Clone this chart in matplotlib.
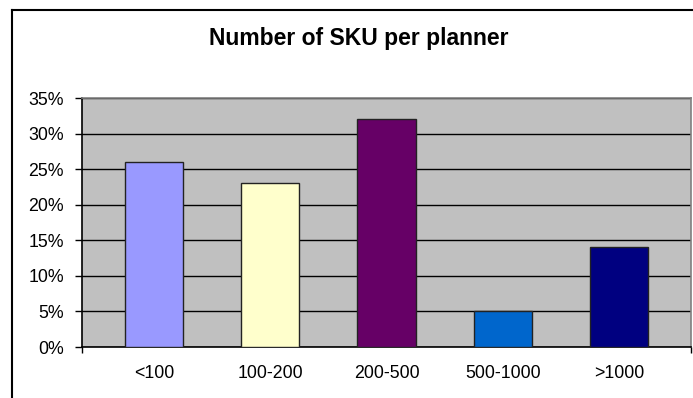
import numpy as np
import matplotlib.pyplot as plt
from matplotlib.lines import Line2D
from matplotlib.ticker import PercentFormatter

categories = ['<100', '100-200', '200-500', '500-1000', '>1000']
shares = [26, 23, 32, 5, 14]
bar_colors = ['#9999FF', '#FFFFCC', '#660066', '#0066CC', '#000080']
y_ticks = [0, 5, 10, 15, 20, 25, 30, 35]

plt.rcParams['font.family'] = ['Liberation Sans', 'DejaVu Sans']

fig = plt.figure(figsize=(6.93, 3.98), dpi=100)
ax = fig.add_axes([82/693, 1-347/398, 609/693, 249/398])
ax.set_facecolor('#C0C0C0')

x = np.arange(len(categories))
ax.bar(x, shares, width=0.5, color=bar_colors, edgecolor='#222222', linewidth=1, zorder=3)

xmin, xmax = -0.62, len(categories) - 1 + 0.62
ax.set_ylim(0, 35)
ax.set_xlim(xmin, xmax)
ax.set_yticks(y_ticks)
ax.yaxis.set_major_formatter(PercentFormatter(decimals=0))
ax.grid(axis='y', color='black', linewidth=1, zorder=1)
ax.set_xticks(x)
ax.set_xticklabels(categories)
# small marks only at the ends of the category axis
ax.set_xticks([xmin, xmax], minor=True)

ax.tick_params(axis='y', direction='out', length=5, width=1, pad=8, labelsize=12.8)
ax.tick_params(axis='x', which='major', length=0, pad=13, labelsize=12.8)
ax.tick_params(axis='x', which='minor', length=4, width=1, direction='out')

for s in ['left', 'bottom']:
    ax.spines[s].set_color('black')
    ax.spines[s].set_linewidth(1.2)
for s in ['top', 'right']:
    ax.spines[s].set_color('#808080')
    ax.spines[s].set_linewidth(1.2)

fig.text(359/693, 1-38/398, 'Number of SKU per planner', ha='center', va='center',
         fontsize=16.5, fontweight='bold')

# chart frame (cut off at right and bottom)
fig.add_artist(Line2D([12.5/693, 12.5/693], [0, 1-10/398], color='black', linewidth=1.5))
fig.add_artist(Line2D([12.5/693, 1], [1-10/398, 1-10/398], color='black', linewidth=1.5))

fig.savefig('out.png', dpi=100)
